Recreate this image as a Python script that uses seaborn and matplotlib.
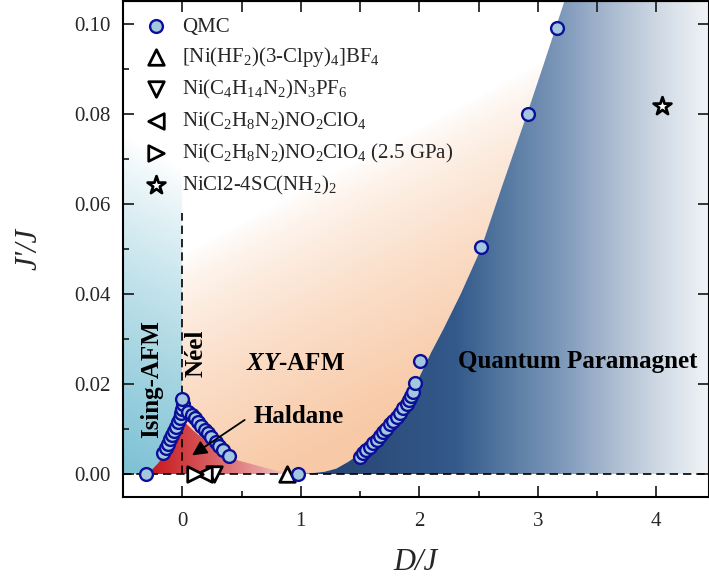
import numpy as np
import matplotlib
matplotlib.use("Agg")
import matplotlib.pyplot as plt
from matplotlib.patches import Polygon
from matplotlib.colors import to_rgb
import seaborn as sns

# ---------------- data ----------------
qmc_D = [-0.31,
         -0.162, -0.139, -0.12, -0.105, -0.086, -0.069, -0.049, -0.032, -0.021, -0.007, 0.002, 0.007, 0.0,
         0.049, 0.078, 0.105, 0.133, 0.162, 0.19, 0.218, 0.246, 0.283, 0.31, 0.344, 0.392,
         0.98,
         1.50, 1.526, 1.554, 1.582, 1.61, 1.639, 1.667, 1.694, 1.723, 1.751, 1.779, 1.808, 1.835,
         1.863, 1.892, 1.914, 1.934, 1.948, 1.962, 2.004,
         2.518, 2.915, 3.16]
qmc_J = [0.0,
         0.0047, 0.0057, 0.0067, 0.0077, 0.0087, 0.0095, 0.0105, 0.0115, 0.0125, 0.0135, 0.0144, 0.0155, 0.0166,
         0.0138, 0.0131, 0.0124, 0.0116, 0.0107, 0.0098, 0.0090, 0.0083, 0.0072, 0.0062, 0.0053, 0.0041,
         0.0,
         0.0038, 0.0046, 0.0053, 0.0061, 0.0068, 0.0075, 0.0084, 0.0094, 0.0101, 0.0110, 0.0118, 0.0127, 0.0136,
         0.0146, 0.0155, 0.0164, 0.0173, 0.0183, 0.0202, 0.0251,
         0.0505, 0.0800, 0.0990]

mat_labels = [r"[Ni(HF$_2$)(3-Clpy)$_4$]BF$_4$",
              r"Ni(C$_4$H$_{14}$N$_2$)N$_3$PF$_6$",
              r"Ni(C$_2$H$_8$N$_2$)NO$_2$ClO$_4$",
              r"Ni(C$_2$H$_8$N$_2$)NO$_2$ClO$_4$ (2.5 GPa)",
              r"NiCl2-4SC(NH$_2$)$_2$"]
mat_D = [0.88, 0.265, 0.18, 0.11, 4.05]
mat_J = [0.0, 0.0, 0.0, 0.0, 0.0817]
mat_markers = ["^", "v", "<", ">", "*"]

# phase boundary (QP / XY-AFM)
bnd_D = [0.98, 1.1, 1.2, 1.3, 1.4, 1.5, 1.6, 1.7, 1.8, 1.9, 2.0, 2.1, 2.2, 2.35, 2.52, 2.7, 2.91, 3.05, 3.25]
bnd_J = [0.0, 0.0002, 0.0005, 0.0012, 0.0027, 0.0045, 0.0068, 0.0095, 0.0128, 0.0165, 0.0215, 0.027, 0.032,
         0.040, 0.050, 0.064, 0.080, 0.091, 0.107]
# Haldane region outline
hal_D = [-0.29, -0.2, -0.15, -0.08, -0.03, 0.02, 0.1, 0.2, 0.3, 0.4, 0.5, 0.6, 0.7, 0.8, 0.9, 0.97]
hal_J = [0.0, 0.0025, 0.0045, 0.0075, 0.0097, 0.0115, 0.0095, 0.0073, 0.0052, 0.0036, 0.0028, 0.0021, 0.0014,
         0.0007, 0.0002, 0.0]

# ---------------- style ----------------
sns.set_style("ticks")
plt.rcParams["font.family"] = ["Liberation Serif", "DejaVu Serif"]
plt.rcParams["mathtext.fontset"] = "custom"
plt.rcParams["mathtext.rm"] = "Liberation Serif"
plt.rcParams["mathtext.it"] = "Liberation Serif:italic"
plt.rcParams["mathtext.bf"] = "Liberation Serif:bold"
plt.rcParams["mathtext.bfit"] = "Liberation Serif:italic:bold"

W, H = 709, 586
fig = plt.figure(figsize=(W / 100, H / 100), dpi=100)
ax = fig.add_axes([123 / W, 89 / H, 585.5 / W, 496 / H])
XMIN, XMAX, YMIN, YMAX = -0.5, 4.44, -0.0051, 0.105
ax.set_xlim(XMIN, XMAX)
ax.set_ylim(YMIN, YMAX)

# ---------------- background gradients ----------------
gx = np.linspace(XMIN, XMAX, 700)
gy = np.linspace(0, YMAX, 300)
GX, GY = np.meshgrid(gx, gy)
ext = [XMIN, XMAX, 0, YMAX]


def lerp(c0, c1, t):
    c0 = np.array(to_rgb(c0)); c1 = np.array(to_rgb(c1))
    return c0[None, None, :] * (1 - t[..., None]) + c1[None, None, :] * t[..., None]


def show(img, verts):
    im = ax.imshow(img, extent=ext, origin="lower", aspect="auto", interpolation="bilinear", zorder=0)
    patch = Polygon(verts, closed=True, transform=ax.transData)
    im.set_clip_path(patch)


# Ising-AFM (blue)
t = np.clip(1 - GY / 0.075 - 0.2 * (GX + 0.5), 0, 1) ** 0.85
show(lerp("#ffffff", "#7cc1d4", t), [(-0.5, 0), (-0.5, YMAX), (0, YMAX), (0, 0)])

# XY-AFM (peach)
t = np.clip(0.80 + 0.2325 * GX - 16.5 * GY, 0, 1) ** 0.7
xy_verts = [(0, 0), (0, YMAX)] + [(d, j) for d, j in zip(bnd_D[::-1], bnd_J[::-1])]
show(lerp("#ffffff", "#f8c9a6", t), xy_verts)

# Quantum paramagnet (navy -> white)
stops_D = [1.0, 2.3, 2.68, 3.19, 3.6, 4.03, 4.45]
stops_c = ["#25426d", "#33598a", "#52769f", "#7d98ba", "#a8b9cf", "#d0dae5", "#f2f4f7"]
sc = np.array([to_rgb(c) for c in stops_c])
img = np.stack([np.interp(GX, stops_D, sc[:, k]) for k in range(3)], axis=-1)
qp_verts = [(d, j) for d, j in zip(bnd_D, bnd_J)] + [(4.6, 0.107), (4.6, 0)]
show(img, qp_verts)

# Haldane (red)
t = np.clip((0.98 - GX) / 1.27, 0, 1) ** 0.8
show(lerp("#f6e2e3", "#c8161a", t), list(zip(hal_D, hal_J)))

# ---------------- lines ----------------
ax.axhline(0, color="black", lw=1.2, ls=(0, (5, 3)), zorder=2)
ax.plot([0, 0], [0, 0.058], color="black", lw=1.2, ls=(0, (5, 3)), zorder=2)

# ---------------- markers ----------------
sns.scatterplot(x=qmc_D, y=qmc_J, marker="o", s=85, color="#a3c7dc", edgecolor="#0b0f9a",
                linewidth=1.7, label="QMC", ax=ax, zorder=6, legend=False)
mat_sizes = [125, 125, 125, 125, 180]
for d, j, m, lab, s in zip(mat_D, mat_J, mat_markers, mat_labels, mat_sizes):
    sns.scatterplot(x=[d], y=[j], marker=m, s=s, color="white", edgecolor="black",
                    linewidth=2.0, label=lab, ax=ax, zorder=5, legend=False)

handles, labels = ax.get_legend_handles_labels()
leg = ax.legend(handles, labels, loc="upper left", bbox_to_anchor=(0.013, 0.997), frameon=False,
                fontsize=15, handlelength=1.0, handletextpad=0.75, labelspacing=0.42,
                borderaxespad=0.3, markerscale=1.0)

# ---------------- text ----------------
bold = dict(fontsize=18, fontweight="bold", color="black")
ax.text(-0.26, 0.021, "Ising-AFM", rotation=90, ha="center", va="center", zorder=7, **bold)
ax.text(0.12, 0.0267, "Néel", rotation=90, ha="center", va="center", zorder=7, **bold)
ax.text(0.96, 0.0246, r"$\mathbfit{XY}$-AFM", ha="center", va="center", zorder=7, **bold)
ax.text(0.60, 0.0127, "Haldane", ha="left", va="center", zorder=7, **bold)
ax.text(2.327, 0.0249, "Quantum Paramagnet", ha="left", va="center", zorder=7, **bold)
ax.annotate("", xy=(0.063, 0.0038), xytext=(0.546, 0.01235),
            arrowprops=dict(arrowstyle="-|>", color="black", lw=1.3, mutation_scale=22), zorder=7)

# ---------------- axes ----------------
ax.set_xticks([0, 1, 2, 3, 4])
ax.set_xticks(np.arange(-0.5, 4.45, 0.5), minor=True)
ax.set_yticks([0.00, 0.02, 0.04, 0.06, 0.08, 0.10])
ax.set_yticks(np.arange(0, 0.105, 0.01), minor=True)
ax.set_yticklabels(["0.00", "0.02", "0.04", "0.06", "0.08", "0.10"])
ax.tick_params(which="major", direction="in", length=8, width=1.3, labelsize=15, pad=9)
ax.tick_params(which="minor", direction="in", length=4.5, width=1.3)
ax.tick_params(axis="x", which="major", pad=11)
for sp in ax.spines.values():
    sp.set_linewidth(1.5)
    sp.set_color("black")

top = ax.secondary_xaxis("top")
top.set_xticks(np.arange(-0.5, 4.45, 0.5))
top.set_xticklabels([])
top.tick_params(direction="in", length=8, width=1.3)
right = ax.secondary_yaxis("right")
right.set_yticks([0.0, 0.02, 0.04, 0.06, 0.08, 0.10])
right.set_yticklabels([])
right.tick_params(direction="in", length=8, width=1.3)

ax.set_xlabel("D/J", fontsize=22, fontstyle="italic", labelpad=12)
ax.set_ylabel("J'/J", fontsize=22, fontstyle="italic", labelpad=22)

fig.savefig("out.png", dpi=100)
